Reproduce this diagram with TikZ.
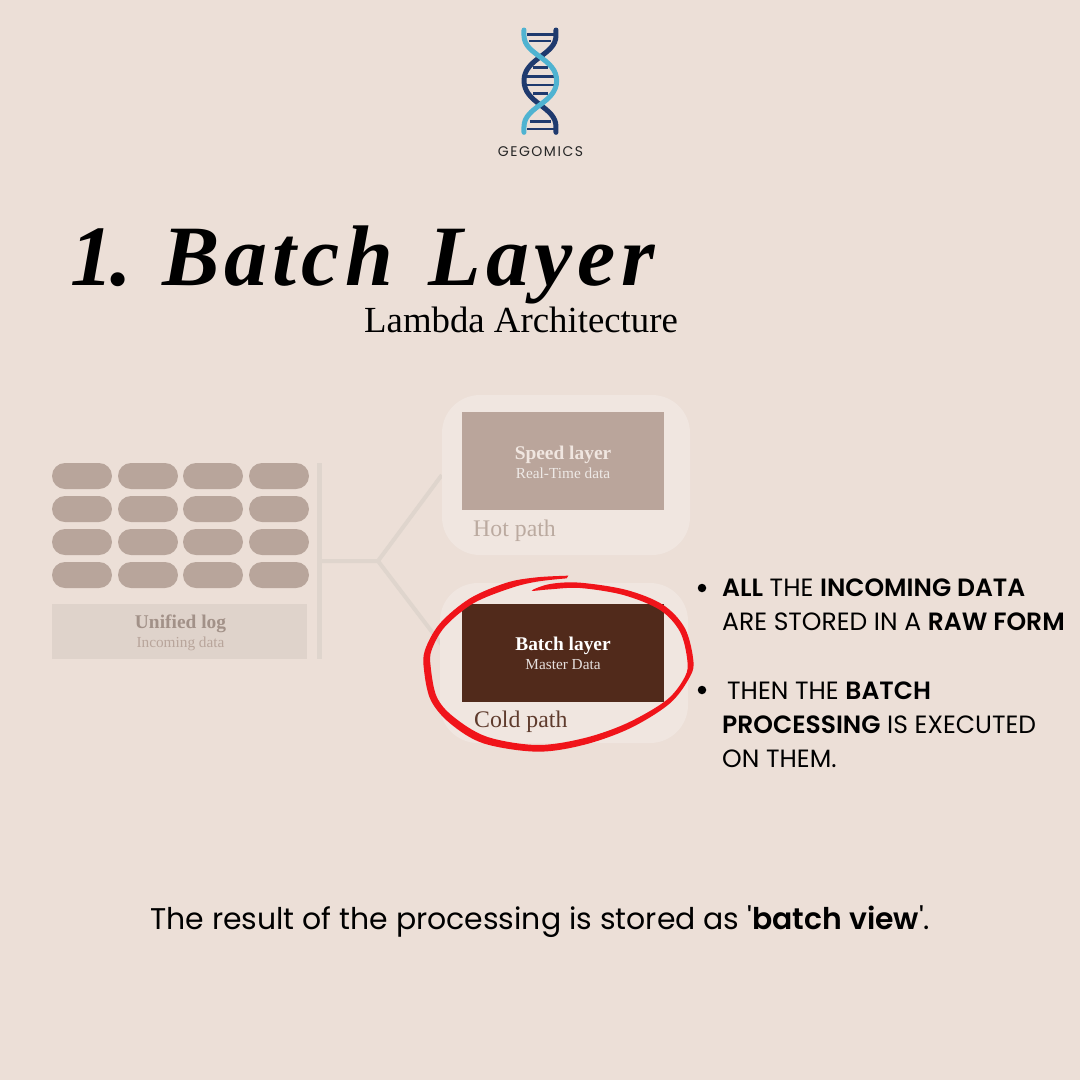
\documentclass[tikz,border=0pt]{standalone}
\usepackage{fontspec}
\setmainfont{Liberation Serif}
\newfontfamily\titlefont[LetterSpace=6]{Liberation Serif}
\newfontfamily\sansf[BoldFont={Poppins SemiBold}]{Poppins}
\newfontfamily\logof[LetterSpace=11]{Poppins}
\usetikzlibrary{calc}
\definecolor{pagebg}{HTML}{ECDFD7}
\definecolor{pill}{HTML}{B8A59B}
\definecolor{halo}{HTML}{F0E6E0}
\definecolor{wire}{HTML}{DFD5CD}
\definecolor{logbox}{HTML}{DFD3CB}
\definecolor{speedc}{HTML}{BAA59B}
\definecolor{batchc}{HTML}{512A1B}
\definecolor{redmark}{HTML}{F0141A}
\definecolor{navy}{HTML}{1F3A6E}
\definecolor{sky}{HTML}{4FB3D1}
\pgfdeclarelayer{bottom}
\pgfdeclarelayer{wires}
\pgfsetlayers{bottom,wires,main}
\tikzset{
  pillbox/.style={fill=pill,rounded corners=13pt,minimum width=60pt,minimum height=26pt,inner sep=0pt},
  halobox/.style={fill=halo,rounded corners=38pt,minimum width=248pt,minimum height=160pt,inner sep=0pt},
  tile/.style={minimum width=202pt,minimum height=98pt,inner sep=0pt},
  wireline/.style={draw=wire,line width=4pt},
  head/.style={font=\fontsize{19.4}{19}\selectfont\bfseries,inner sep=0pt,anchor=base},
  sub/.style={font=\fontsize{15.3}{15}\selectfont,inner sep=0pt,anchor=base},
  pathlabel/.style={font=\fontsize{23.8}{24}\selectfont,inner sep=0pt,anchor=base west},
  sans/.style={font=\sansf\fontsize{25}{24}\selectfont,inner sep=0pt,anchor=base west,text=black},
  strand/.style={line width=5pt,line cap=round,line join=round},
  rung/.style={draw=navy,line width=2.8pt},
  dot/.style={circle,fill=black,minimum size=8.5pt,inner sep=0pt}
}
\begin{document}
\begin{tikzpicture}[x=1pt,y=-1pt]
\useasboundingbox (0,0) rectangle (1080,1080);
\begin{pgfonlayer}{bottom}
\fill[pagebg] (0,0) rectangle (1080,1080);
\end{pgfonlayer}
% logo
\begin{scope}[shift={(480,15)},x=0.3333pt,y=-0.3333pt]
\foreach \xa/\xb/\yy in {140/222/58,148/214/78,160/205/158,140/222/185,140/222/210,160/205/235,150/212/320,140/222/342}{
  \draw[rung] (\xa,\yy) -- (\xb,\yy);
}
\draw[strand,draw=navy] (228,45) -- (228,62) .. controls (228,120) and (132,130) .. (132,197) .. controls (132,265) and (228,275) .. (228,335) -- (228,352);
\draw[strand,draw=sky] (132,45) -- (132,62) .. controls (132,120) and (230,130) .. (230,197) .. controls (230,265) and (132,275) .. (132,335) -- (132,352);
\end{scope}
\node[font=\logof\fontsize{14}{14}\selectfont,text=black!85,inner sep=0pt] (brand) at (540.5,152) {GEGOMICS};
% titles
\node[font=\titlefont\fontsize{86}{86}\selectfont\bfseries\itshape,inner sep=0pt,anchor=base west,text=black] (title) at (70,285) {1\kern-3pt.\kern-5pt{} Batch\kern9pt{} Layer};
\node[font=\fontsize{36.8}{36}\selectfont,inner sep=0pt,anchor=base west,text=black] (subtitle) at (364,332) {Lambda Architecture};
% pills
\foreach \cx [count=\i] in {82,148,213,279}{
  \foreach \cy [count=\j] in {476,509,542,575}{
    \node[pillbox] (p\i\j) at (\cx,\cy) {};
  }
}
% log
\node[fill=logbox,minimum width=255pt,minimum height=55pt,inner sep=0pt] (log) at (179.5,631.5) {};
\node[head,text=black!12!pill] (logt) at (180.5,628) {Unified log};
\node[sub,text=pill] (logs) at (180.5,647) {Incoming data};
\node[fill=wire,minimum width=5pt,minimum height=196pt,inner sep=0pt] (bar) at (319.5,561) {};
% paths
\node[halobox] (hot) at (566,475) {};
\node[halobox] (cold) at (564,663) {};
\node[tile,fill=speedc] (speed) at (563,461) {};
\node[tile,fill=batchc] (batch) at (563,653) {};
\node[head,text=halo] (speedt) at (563,459) {Speed layer};
\node[sub,text=white!75!speedc] (speeds) at (563,478) {Real-Time data};
\node[head,text=white] (batcht) at (563,650) {Batch layer};
\node[sub,text=white!85!batchc] (batchs) at (563,669) {Master Data};
\node[pathlabel,text=pill!95!white] (hotl) at (473,536) {Hot path};
\node[pathlabel,text=batchc!92!white] (coldl) at (474,727) {Cold path};
% connectors
\coordinate (fork) at (378,561);
\coordinate (coldin) at (442,645);
\begin{pgfonlayer}{wires}
\draw[wireline] (bar.east |- fork) -- (fork) -- (hot.west);
\draw[wireline] (fork) -- (coldin);
\end{pgfonlayer}
% red ring
\begin{scope}[shift={(410,560)},x=0.3333pt,y=-0.3333pt]
\fill[redmark] plot[smooth,tension=0.55] coordinates {(475,47)(380,52)(290,68)(180,115)(90,190)(45,270)(42,330)(62,420)(120,490)(220,550)(380,575)(520,555)(660,505)(780,430)(840,350)(850,300)(825,205)(760,135)(650,90)(510,68)(420,72)(365,92)(420,88)(510,84)(640,105)(750,150)(810,215)(832,300)(825,350)(770,420)(650,490)(520,535)(380,555)(230,530)(130,470)(80,410)(62,320)(65,270)(105,200)(190,130)(300,85)(380,65)(470,55)} -- cycle;
\end{scope}
% bullets
\node[dot] (b1) at (702,588) {};
\node[dot] (b2) at (702,690) {};
\node[sans] (l1) at (722,596) {\textbf{ALL} THE \textbf{INCOMING DATA}};
\node[sans] (l2) at (722,630) {ARE STORED IN A \textbf{RAW FORM}};
\node[sans] (l3) at (727,699) {THEN THE \textbf{BATCH}};
\node[sans] (l4) at (722,733) {\textbf{PROCESSING} IS EXECUTED};
\node[sans] (l5) at (722,767) {ON THEM.};
\node[font=\sansf\fontsize{29.9}{32}\selectfont,inner sep=0pt,anchor=base west,text=black] (foot) at (150,929) {The result of the processing is stored as '\textbf{batch view}'.};
\end{tikzpicture}
\end{document}
